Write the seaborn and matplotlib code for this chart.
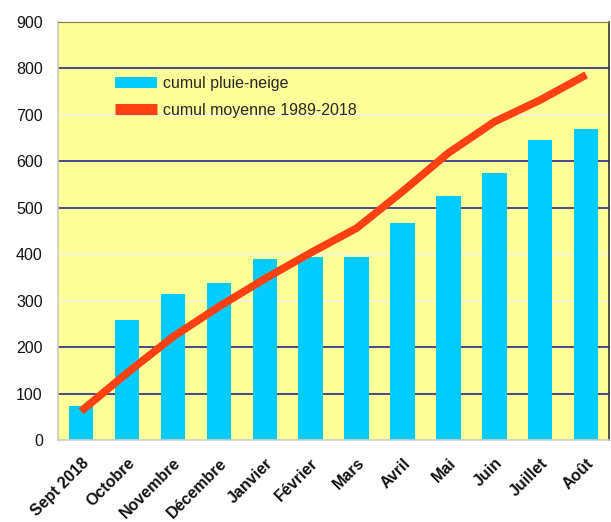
import numpy as np
import pandas as pd
import matplotlib
matplotlib.use('Agg')
import matplotlib.pyplot as plt
import seaborn as sns

# Monthly cumulative precipitation (mm)
months = ['Sept 2018', 'Octobre', 'Novembre', 'Décembre', 'Janvier', 'Février',
          'Mars', 'Avril', 'Mai', 'Juin', 'Juillet', 'Août']
cumul_pluie = [74, 258, 315, 339, 389, 395, 394, 467, 526, 575, 646, 669]
cumul_moyenne = [62, 144, 222, 287, 347, 403, 456, 535, 618, 685, 732, 786]

df = pd.DataFrame({'mois': months, 'pluie': cumul_pluie, 'moyenne': cumul_moyenne})

sns.set_style('white')
plt.rcParams['font.family'] = ['Liberation Sans', 'DejaVu Sans']

fig = plt.figure(figsize=(6.11, 5.22), dpi=100)
ax = fig.add_axes([0.095, 0.157, 0.902, 0.801])
ax.set_facecolor('#FFFF99')

# horizontal grid lines (some dark, some pale as in the original)
dark_lines = [100, 200, 500, 600, 800]
pale_lines = [300, 400, 700]
for v in dark_lines:
    ax.axhline(v, color='#2B2B8C', lw=1.2, zorder=0)
for v in pale_lines:
    ax.axhline(v, color='#F4F4E0', lw=1.2, zorder=0)

sns.barplot(data=df, x='mois', y='pluie', color='#00CCFF', saturation=1,
            width=0.53, ax=ax, label='cumul pluie-neige', zorder=2,
            linewidth=0, edgecolor='none')
sns.lineplot(x=np.arange(len(months)), y=cumul_moyenne, color='#FF4010',
             lw=5.5, ax=ax, label='cumul moyenne 1989-2018', zorder=3,
             solid_capstyle='butt', solid_joinstyle='round')

ax.set_xlim(-0.5, len(months) - 0.5)
ax.set_ylim(0, 900)
ax.set_yticks(range(0, 901, 100))
ax.set_xlabel('')
ax.set_ylabel('')

ax.set_xticks(range(len(months)))
ax.set_xticklabels(months, rotation=45, ha='right', rotation_mode='anchor',
                   fontsize=11.5, fontweight='bold', color='#111111')
ax.tick_params(axis='x', length=0, pad=11)
ax.set_xticks(np.arange(0.5, len(months) - 0.5, 1), minor=True)
ax.tick_params(axis='x', which='minor', length=5, color='#333333', width=1)
ax.tick_params(axis='y', length=5, color='#555555', labelsize=11.5,
               labelcolor='#111111', pad=6)

for side in ['left', 'bottom']:
    ax.spines[side].set_color('#CCCCCC')
    ax.spines[side].set_linewidth(1.2)
ax.spines['top'].set_color('#7A7A4A')
ax.spines['right'].set_color('#333333')
ax.spines['right'].set_linewidth(1.2)

# legend: bars first, then the line
handles, labels = ax.get_legend_handles_labels()
order = [labels.index('cumul pluie-neige'), labels.index('cumul moyenne 1989-2018')]
leg = ax.legend([handles[i] for i in order], [labels[i] for i in order],
                loc='upper left', bbox_to_anchor=(0.078, 0.905), frameon=False,
                fontsize=11.5, handlelength=2.6, handleheight=0.7, labelspacing=0.75,
                handletextpad=0.4)
for line in leg.get_lines():
    line.set_linewidth(8)

fig.savefig('out.png', dpi=100, facecolor='white')
